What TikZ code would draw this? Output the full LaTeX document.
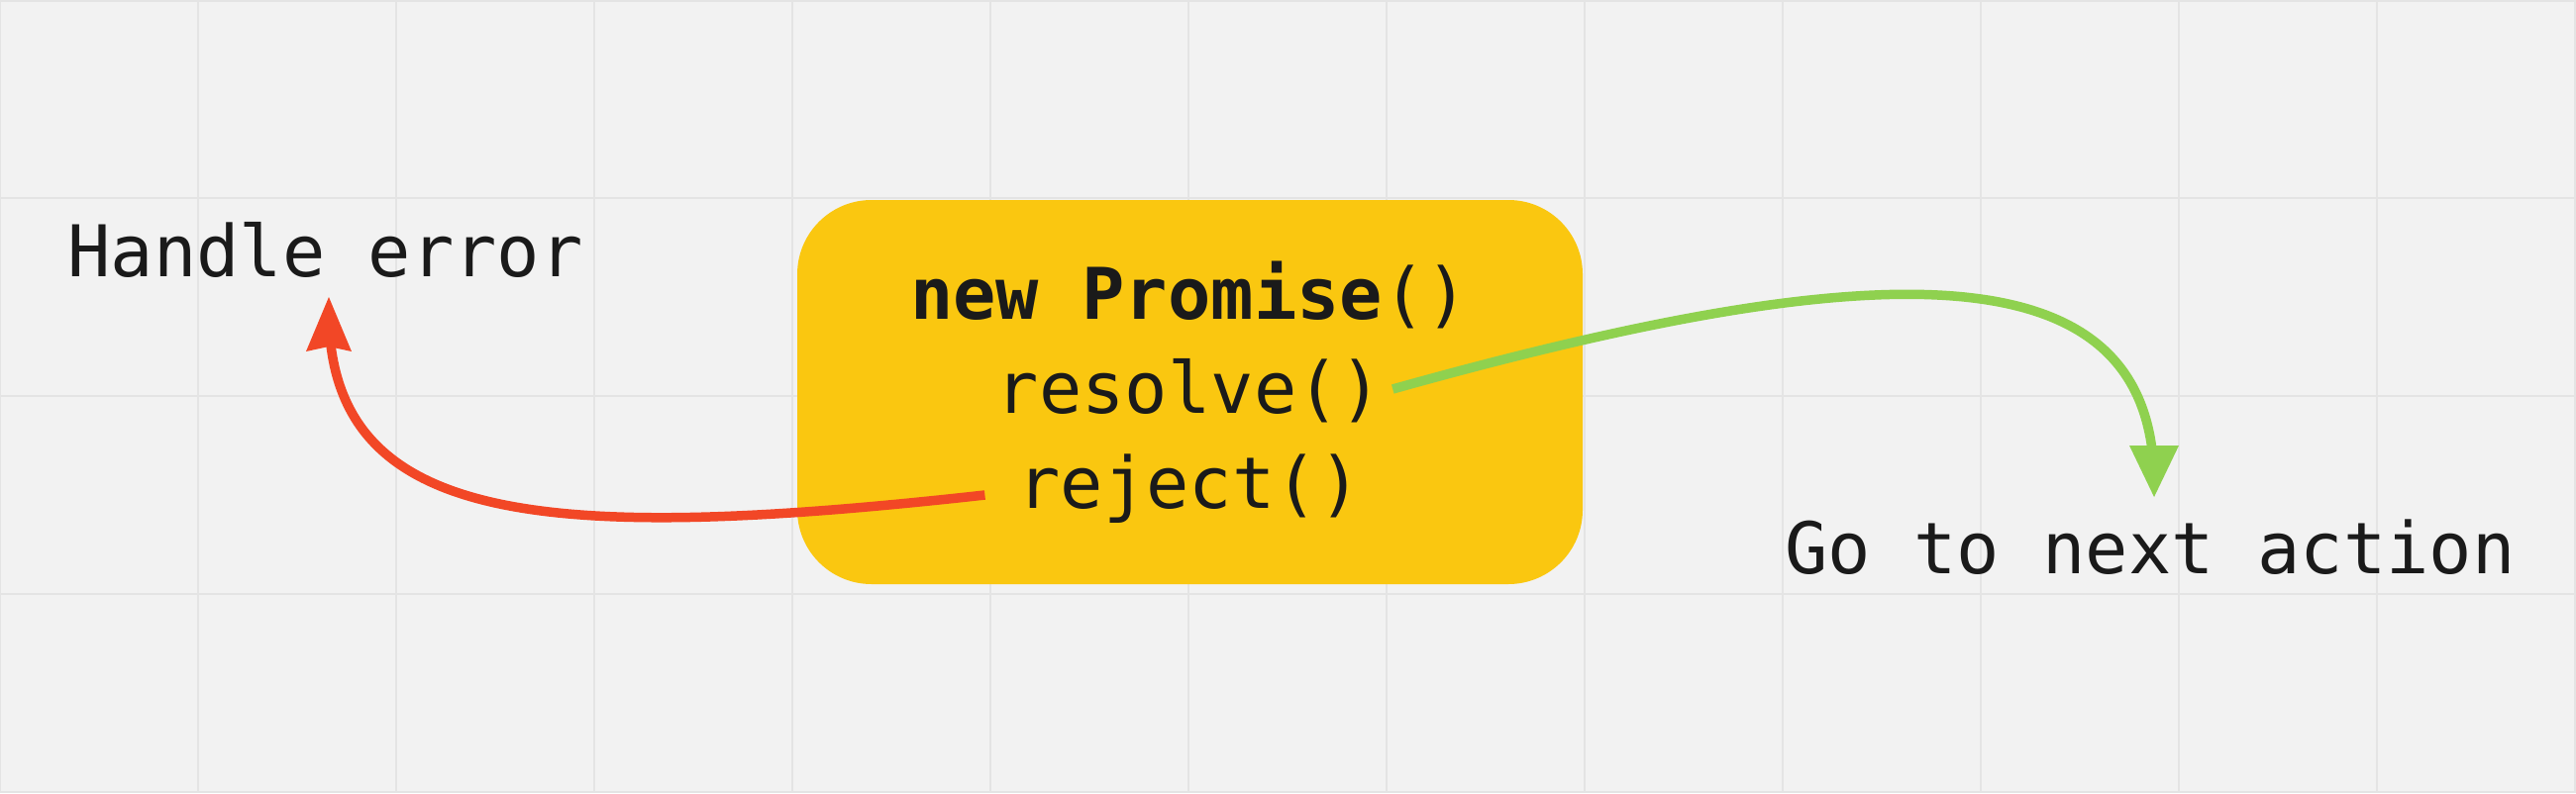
\documentclass[tikz,border=0pt]{standalone}
\usepackage{fontspec}
\newfontfamily\codefont{DejaVu Sans Mono}
\usetikzlibrary{arrows.meta,calc,decorations.markings}
\definecolor{bgcol}{HTML}{F2F2F2}
\definecolor{gridcol}{HTML}{E4E4E4}
\definecolor{boxcol}{HTML}{FAC710}
\definecolor{errred}{HTML}{F24726}
\definecolor{okgreen}{HTML}{8FD14F}
\definecolor{inkcol}{HTML}{1A1A1A}
\begin{document}
\begin{tikzpicture}[x=1pt,y=-1pt,
  gridline/.style={draw=gridcol,line width=2pt},
  txt/.style={inner sep=0pt,anchor=base,text=inkcol,font=\codefont\fontsize{72}{86}\selectfont},
  promisebox/.style={fill=boxcol,rounded corners=75pt,minimum width=793pt,minimum height=388pt,inner sep=0pt},
  conn/.style={line width=9.5pt,line cap=butt,shorten >=14pt,postaction={decorate}},
  redconn/.style={conn,draw=errred,decoration={markings,mark=at position 1 with {\arrow{Stealth[length=55pt,width=46pt,inset=5pt,color=errred,fill=errred,line width=0pt]}}}},
  greenconn/.style={conn,draw=okgreen,decoration={markings,mark=at position 1 with {\arrow{Triangle[length=52pt,width=50pt,color=okgreen,fill=okgreen,line width=0pt]}}}},
]
\useasboundingbox (0,0) rectangle (2601,801);
\fill[bgcol] (0,0) rectangle (2601,801);
\foreach \gx in {0,200,...,2600} \draw[gridline] (\gx,0) -- (\gx,801);
\foreach \gy in {1,200,400,600,800} \draw[gridline] (0,\gy) -- (2601,\gy);

\node[promisebox] (box) at (1201.5,396) {};
\node[txt] (promise) at (1201,322) {{\bfseries new Promise}()};
\node[txt] (resolve) at (1201,417) {resolve()};
\node[txt] (reject) at (1201,513) {reject()};
\node[txt] (handle) at (328.5,279) {Handle error};
\node[txt] (goal) at (2171,579) {Go to next action};

\draw[redconn] ($(reject.base west)+(-33,-13)$) .. controls +(-450,50) and +(0,230) .. ($(handle.base)+(3.5,21)$);
\draw[greenconn] ($(resolve.base east)+(10,-24)$) .. controls +(500,-140) and +(0,-250) .. ($(goal.base)+(4,-77)$);
\end{tikzpicture}
\end{document}
